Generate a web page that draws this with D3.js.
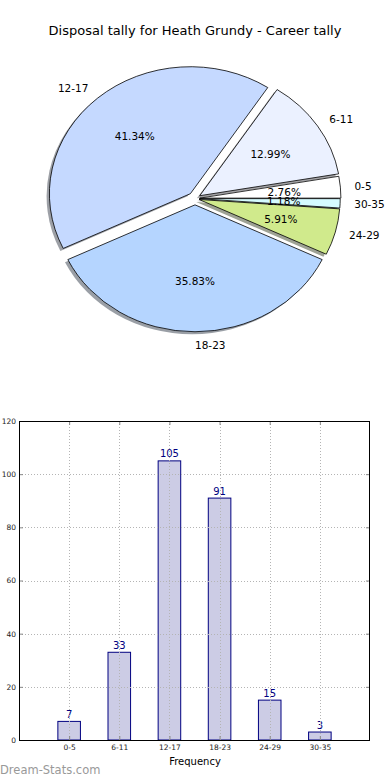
<!DOCTYPE html>
<html>
<head>
<meta charset="utf-8">
<script src="https://cdn.jsdelivr.net/npm/d3@7"></script>
<style>
  html, body { margin: 0; padding: 0; background: #fff; }
  svg { display: block; font-family: "DejaVu Sans", sans-serif; }
</style>
</head>
<body>
<svg id="chart" width="390" height="780"></svg>
<script>
// ---- data ----
const title = "Disposal tally for Heath Grundy - Career tally";
const categories = ["0-5", "6-11", "12-17", "18-23", "24-29", "30-35"];
const counts = [7, 33, 105, 91, 15, 3];
const sliceColors = ["#ffffff", "#ebf1ff", "#c5d9ff", "#b5d5ff", "#d0ea8c", "#d5fbff"];
const explode = [0.035, 0.04, 0.05, 0.05, 0.03, 0.03];
const yTicks = [0, 20, 40, 60, 80, 100, 120];
const xLabel = "Frequency";
const watermark = "Dream-Stats.com";

(function () {
const svg = d3.select("#chart");
svg.append("rect").attr("width", 390).attr("height", 780).attr("fill", "#fff");

// ---- title ----
svg.append("text").attr("x", 195).attr("y", 30)
  .attr("text-anchor", "middle").attr("dominant-baseline", "central")
  .attr("font-size", 13).attr("fill", "#000").text(title);

// ---- pie ----
const cx = 195, cy = 198.5, rx = 141, ry = 127;
const total = d3.sum(counts);
const pie = d3.pie().sort(null).startAngle(Math.PI / 2).endAngle(Math.PI / 2 - 2 * Math.PI);
const arcs = pie(counts);
const arcGen = d3.arc().innerRadius(0).outerRadius(1);

function centerOf(d, i) {
  const mid = (d.startAngle + d.endAngle) / 2;
  const e = explode[i];
  return [cx + e * rx * Math.sin(mid), cy - e * ry * Math.cos(mid), mid];
}

const pieG = svg.append("g");
// shadows
pieG.selectAll("path.shadow").data(arcs).join("path")
  .attr("class", "shadow")
  .attr("d", arcGen)
  .attr("transform", (d, i) => {
    const [px, py] = centerOf(d, i);
    return `translate(${px - 0.02 * rx},${py + 0.02 * ry}) scale(${rx},${ry})`;
  })
  .attr("fill", (d, i) => {
    const c = d3.rgb(sliceColors[i]);
    return d3.rgb(c.r * 0.3, c.g * 0.3, c.b * 0.3).toString();
  })
  .attr("fill-opacity", 0.5)
  .attr("stroke", "none");

// wedges
pieG.selectAll("path.wedge").data(arcs).join("path")
  .attr("class", "wedge")
  .attr("d", arcGen)
  .attr("transform", (d, i) => {
    const [px, py] = centerOf(d, i);
    return `translate(${px},${py}) scale(${rx},${ry})`;
  })
  .attr("fill", (d, i) => sliceColors[i])
  .attr("stroke", "#000")
  .attr("stroke-width", 0.8)
  .attr("vector-effect", "non-scaling-stroke")
  .attr("stroke-linejoin", "miter");

// labels
arcs.forEach((d, i) => {
  const [px0, py0, mid] = centerOf(d, i);
  const ux = Math.sin(mid), uy = -Math.cos(mid);
  const lx = px0 + 1.1 * rx * ux, ly = py0 + 1.1 * ry * uy;
  pieG.append("text").attr("x", lx).attr("y", ly)
    .attr("text-anchor", ux > -1e-6 ? "start" : "end")
    .attr("dominant-baseline", "central")
    .attr("font-size", 10.5).attr("fill", "#000")
    .text(categories[i]);
  const tx = px0 + 0.6 * rx * ux, ty = py0 + 0.6 * ry * uy;
  pieG.append("text").attr("x", tx).attr("y", ty)
    .attr("text-anchor", "middle").attr("dominant-baseline", "central")
    .attr("font-size", 10.5).attr("fill", "#000")
    .text((counts[i] / total * 100).toFixed(2) + "%");
});

// ---- bar chart ----
const pL = 19, pR = 370, pT = 421, pB = 740;
const x = d3.scalePoint().domain(categories).range([pL, pR]).padding(1);
const y = d3.scaleLinear().domain([0, 120]).range([pB, pT]);
const step = x.step();
const barW = 0.45 * step;

const barG = svg.append("g");
barG.selectAll("rect.bar").data(counts).join("rect")
  .attr("class", "bar")
  .attr("x", (d, i) => x(categories[i]) - barW / 2)
  .attr("y", d => y(d))
  .attr("width", barW)
  .attr("height", d => y(0) - y(d))
  .attr("fill", "#ccccE5")
  .attr("stroke", "#000080")
  .attr("stroke-width", 1);

// grid
const gridG = svg.append("g").attr("stroke", "#b4b4b4").attr("stroke-width", 1)
  .attr("stroke-dasharray", "1,2");
yTicks.forEach(t => {
  gridG.append("line").attr("x1", pL).attr("x2", pR)
    .attr("y1", Math.round(y(t)) + 0.5).attr("y2", Math.round(y(t)) + 0.5);
});
categories.forEach(c => {
  gridG.append("line").attr("y1", pT).attr("y2", pB)
    .attr("x1", Math.round(x(c)) + 0.5).attr("x2", Math.round(x(c)) + 0.5);
});

// axes
const axL = svg.append("g").attr("transform", `translate(${pL},0)`)
  .call(d3.axisLeft(y).tickValues(yTicks).tickSize(-4).tickPadding(3));
const axR = svg.append("g").attr("transform", `translate(${pR},0)`)
  .call(d3.axisRight(y).tickValues(yTicks).tickSize(-4).tickFormat(""));
const axB = svg.append("g").attr("transform", `translate(0,${pB})`)
  .call(d3.axisBottom(x).tickSize(-4).tickPadding(5));
const axT = svg.append("g").attr("transform", `translate(0,${pT})`)
  .call(d3.axisTop(x).tickSize(-4).tickFormat(""));
[axL, axR, axB, axT].forEach(a => {
  a.select(".domain").remove();
  a.selectAll(".tick line").attr("stroke", "#888");
  a.selectAll(".tick text").attr("font-size", 7.5).attr("fill", "#222")
    .attr("font-family", "DejaVu Sans, sans-serif");
});

// frame
svg.append("rect").attr("x", pL + 0.5).attr("y", pT + 0.5)
  .attr("width", pR - pL - 1).attr("height", pB - pT)
  .attr("fill", "none").attr("stroke", "#000").attr("stroke-width", 1);

// value labels
barG.selectAll("text.val").data(counts).join("text")
  .attr("class", "val")
  .attr("x", (d, i) => x(categories[i]))
  .attr("y", d => y(d) - 3.5)
  .attr("text-anchor", "middle")
  .attr("font-size", 10).attr("fill", "#000080")
  .text(d => d);

// x label
svg.append("text").attr("x", 195).attr("y", 761)
  .attr("text-anchor", "middle").attr("dominant-baseline", "central")
  .attr("font-size", 10).attr("fill", "#000").text(xLabel);

// watermark
svg.append("text").attr("x", 0).attr("y", 770)
  .attr("dominant-baseline", "central")
  .attr("font-size", 11.5).attr("fill", "#999").text(watermark);
})();
</script>
</body>
</html>
